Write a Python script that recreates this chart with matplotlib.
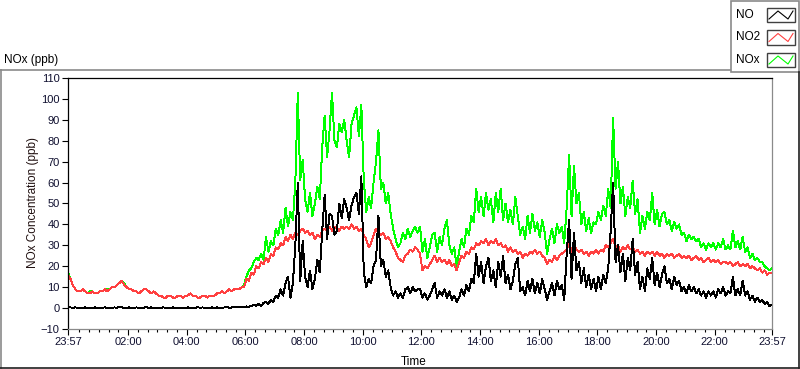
import numpy as np
import matplotlib.pyplot as plt
from matplotlib.lines import Line2D
from matplotlib.patches import Rectangle

plt.rcParams['font.family'] = ['Liberation Sans', 'DejaVu Sans']

# samples every 5 minutes, starting 23:57 (hours relative to midnight)
start_h = -0.05
step_h = 5 / 60

# NO2 (ppb), one row per hour
no2 = [
    16, 14, 11, 9, 8, 8, 9, 8, 7, 7, 8, 7,
    7, 8, 8, 9, 8, 9, 10, 10, 11, 12, 13, 11,
    10, 9, 9, 8, 8, 7, 8, 9, 9, 8, 7, 8,
    7, 6, 6, 5, 5, 6, 6, 5, 5, 6, 6, 5,
    6, 6, 7, 6, 6, 5, 5, 6, 6, 5, 6, 6,
    6, 7, 7, 8, 7, 8, 9, 8, 9, 9, 9, 10,
    10, 14, 13, 17, 16, 20, 19, 22, 21, 24, 22, 26,
    25, 29, 28, 31, 30, 34, 32, 35, 33, 36, 35, 37,
    38, 36, 37, 35, 36, 33, 35, 34, 37, 38, 37, 39,
    37, 39, 38, 37, 39, 38, 39, 38, 40, 38, 39, 37,
    38, 35, 33, 29, 31, 35, 38, 36, 35, 36, 33, 34,
    32, 29, 27, 24, 23, 22, 25, 26, 28, 27, 29, 28,
    26, 18, 20, 19, 21, 23, 25, 22, 24, 22, 23, 21,
    23, 20, 21, 18, 22, 25, 24, 27, 26, 29, 28, 31,
    30, 32, 31, 33, 30, 32, 31, 33, 30, 31, 29, 30,
    27, 29, 27, 28, 26, 27, 24, 26, 25, 27, 26, 28,
    26, 27, 25, 24, 21, 23, 22, 25, 23, 25, 26, 27,
    28, 31, 27, 31, 28, 27, 28, 26, 27, 25, 27, 26,
    28, 26, 28, 27, 30, 29, 31, 33, 29, 30, 27, 29,
    28, 30, 28, 29, 27, 28, 26, 27, 25, 27, 26, 27,
    25, 27, 25, 26, 24, 26, 25, 26, 24, 25, 26, 24,
    25, 24, 25, 23, 24, 25, 23, 24, 22, 23, 24, 22,
    23, 22, 23, 21, 22, 22, 21, 22, 20, 21, 22, 20,
    21, 20, 21, 19, 20, 19, 18, 19, 17, 18, 16, 17,
    17,
]

# NO (ppb)
no = [
    0.5, 0.3, 0.2, 0.3, 0.2, 0.1, 0.2, 0.3, 0.2, 0.1, 0.2, 0.3,
    0.2, 0.1, 0.2, 0.3, 0.2, 0.1, 0.2, 0.3, 0.2, 0.4, 0.3, 0.2,
    0.2, 0.3, 0.1, 0.2, 0.3, 0.2, 0.1, 0.2, 0.4, 0.2, 0.3, 0.2,
    0.2, 0.1, 0.2, 0.3, 0.2, 0.2, 0.1, 0.3, 0.2, 0.2, 0.1, 0.2,
    0.2, 0.3, 0.2, 0.1, 0.2, 0.4, 0.2, 0.3, 0.2, 0.1, 0.2, 0.3,
    0.2, 0.3, 0.2, 0.2, 0.3, 0.4, 0.2, 0.3, 0.4, 0.3, 0.5, 0.4,
    0.5, 0.8, 0.6, 1, 1.5, 1, 2, 1, 2.5, 3, 2, 4,
    3, 6, 5, 9, 6, 12, 15, 5, 12, 30, 60, 13,
    32, 15, 10, 18, 9, 14, 23, 17, 37, 54, 33, 45,
    44, 35, 37, 50, 43, 52, 48, 42, 49, 53, 55, 45,
    63, 17, 10, 14, 12, 20, 23, 44, 20, 23, 15, 18,
    10, 6, 8, 5, 7, 5, 9, 10, 7, 10, 8, 9,
    9, 5, 7, 4, 6, 9, 12, 5, 8, 6, 9, 5,
    8, 4, 6, 3, 5, 9, 6, 11, 8, 14, 12, 26,
    15, 22, 12, 20, 24, 13, 18, 10, 22, 15, 25, 12,
    16, 9, 13, 21, 24, 8, 10, 6, 13, 8, 14, 7,
    12, 7, 14, 9, 4, 8, 12, 6, 13, 9, 11, 4,
    26, 42, 14, 36, 18, 22, 12, 19, 10, 16, 9, 14,
    8, 15, 9, 16, 12, 19, 37, 60, 22, 30, 17, 26,
    13, 24, 18, 33, 16, 22, 9, 15, 8, 19, 14, 24,
    11, 17, 10, 16, 20, 12, 14, 9, 15, 11, 13, 8,
    10, 7, 11, 8, 10, 7, 9, 6, 8, 5, 8, 6,
    8, 5, 9, 7, 10, 6, 8, 7, 15, 6, 9, 6,
    13, 6, 8, 4, 6, 3, 5, 3, 4, 2, 3, 1,
    1.5,
]

# NOx (ppb)
nox = [
    17, 14, 11, 9, 8, 8, 9, 8, 7, 8, 8, 7,
    7, 8, 8, 9, 9, 9, 10, 10, 11, 12, 13, 12,
    10, 9, 9, 8, 8, 7, 8, 9, 9, 8, 7, 8,
    7, 6, 6, 5, 5, 6, 6, 5, 5, 6, 6, 5,
    6, 6, 7, 6, 6, 5, 5, 6, 6, 5, 6, 6,
    6, 7, 7, 8, 7, 8, 9, 8, 9, 9, 9, 10,
    11, 15, 18, 19, 22, 24, 23, 26, 23, 34, 27, 32,
    30, 38, 35, 42, 36, 48, 39, 46, 42, 60, 103, 61,
    71, 52, 46, 55, 44, 50, 58, 52, 77, 92, 72, 85,
    103, 80, 77, 88, 84, 90, 80, 72, 88, 92, 96, 82,
    97, 61, 46, 53, 48, 60, 70, 85, 57, 60, 50, 55,
    45, 38, 33, 29, 31, 36, 33, 38, 34, 37, 39, 36,
    39, 27, 33, 24, 29, 35, 36, 27, 34, 30, 38, 42,
    30, 26, 29, 20, 27, 33, 29, 38, 35, 44, 41, 57,
    46, 53, 44, 55, 47, 52, 41, 55, 46, 57, 42, 50,
    41, 47, 40, 53, 44, 35, 39, 33, 44, 36, 45, 37,
    41, 34, 42, 36, 26, 33, 38, 31, 40, 36, 39, 31,
    48, 73, 44, 68, 50, 55, 40, 46, 37, 43, 36, 41,
    40, 46, 42, 49, 44, 57, 48, 91, 57, 70, 50, 58,
    44, 53, 48, 61, 45, 52, 36, 44, 38, 46, 42, 55,
    40, 47, 39, 45, 46, 40, 42, 37, 41, 38, 40, 35,
    36, 32, 35, 33, 34, 32, 33, 29, 31, 28, 31, 29,
    31, 28, 31, 29, 33, 28, 30, 28, 37, 29, 32, 28,
    34, 27, 29, 24, 26, 23, 24, 22, 22, 20, 19, 18,
    19,
]

major_ticks = [-0.05, 2, 4, 6, 8, 10, 12, 14, 16, 18, 20, 22, 23.95]
major_labels = ['23:57', '02:00', '04:00', '06:00', '08:00', '10:00', '12:00',
                '14:00', '16:00', '18:00', '20:00', '22:00', '23:57']

W, H = 800, 369
t = start_h + step_h * np.arange(len(no2))

fig = plt.figure(figsize=(W / 100, H / 100), dpi=100)


def fx(px):
    return px / W


def fy(py):
    return 1 - py / H


ax = fig.add_axes([fx(68), fy(329), fx(772 - 68), fy(78) - fy(329)])
ax.plot(t, nox, color='#00ff00', lw=0.7, zorder=1, antialiased=False)
ax.plot(t, no2, color='#ff4040', lw=0.7, zorder=2, antialiased=False)
ax.plot(t, no, color='black', lw=0.7, zorder=3, antialiased=False)

ax.set_xlim(-0.05, 23.95)
ax.set_ylim(-10, 110)
ax.set_yticks(np.arange(-10, 111, 10))
ax.set_xticks(major_ticks)
ax.set_xticklabels(major_labels)
minor = [m / 3 for m in range(1, 72) if m % 6 != 0]
ax.set_xticks(minor, minor=True)
ax.tick_params(axis='both', which='major', direction='out', length=4, width=0.8,
               labelsize=8, color='black', labelcolor='#101030', pad=2)
ax.tick_params(axis='x', which='minor', direction='out', length=2.5, width=0.8, color='black')
for s in ['top', 'left']:
    ax.spines[s].set_color('black')
    ax.spines[s].set_linewidth(0.9)
for s in ['right', 'bottom']:
    ax.spines[s].set_color('#8a8a8a')
    ax.spines[s].set_linewidth(0.9)

fig.text(fx(4), fy(60), 'NOx (ppb)', fontsize=8.5, va='center', ha='left')
fig.text(fx(33), fy(202), 'NOx Concentration (ppb)', fontsize=8.5, rotation=90,
         va='center', ha='center', color='#201010')
fig.text(fx(401), fy(362), 'Time', fontsize=8.5, va='center', ha='left')

# outer frame
gray = '#8a8a8a'
fig.add_artist(Line2D([fx(0), fx(730)], [fy(69.5), fy(69.5)], color=gray, lw=1.2))
fig.add_artist(Line2D([fx(0.8), fx(0.8)], [fy(69.5), fy(368)], color=gray, lw=1.2))
fig.add_artist(Line2D([fx(0), fx(799)], [fy(367.8), fy(367.8)], color='#202020', lw=1.2))
fig.add_artist(Line2D([fx(798.5), fx(798.5)], [fy(72), fy(368)], color='#202020', lw=1.2))

# legend box
fig.add_artist(Rectangle((fx(730.5), fy(72)), fx(68), fy(0.5) - fy(72),
                         facecolor='white', edgecolor=gray, lw=1.2))
leg_names = ['NO', 'NO2', 'NOx']
leg_colors = ['black', '#ff4040', '#00ff00']
for i, (name, col) in enumerate(zip(leg_names, leg_colors)):
    yc = 15 + i * 22.5
    fig.text(fx(736), fy(yc), name, fontsize=8.5, va='center', ha='left')
    fig.add_artist(Rectangle((fx(767), fy(yc + 7)), fx(28), fy(yc - 7) - fy(yc + 7),
                             facecolor='white', edgecolor='#404040', lw=1.0))
    zx = [769, 778, 788, 793]
    zy = [yc + 4, yc - 4, yc + 4, yc - 4]
    fig.add_artist(Line2D([fx(v) for v in zx], [fy(v) for v in zy], color=col, lw=0.8))

fig.savefig('out.png', dpi=100)
